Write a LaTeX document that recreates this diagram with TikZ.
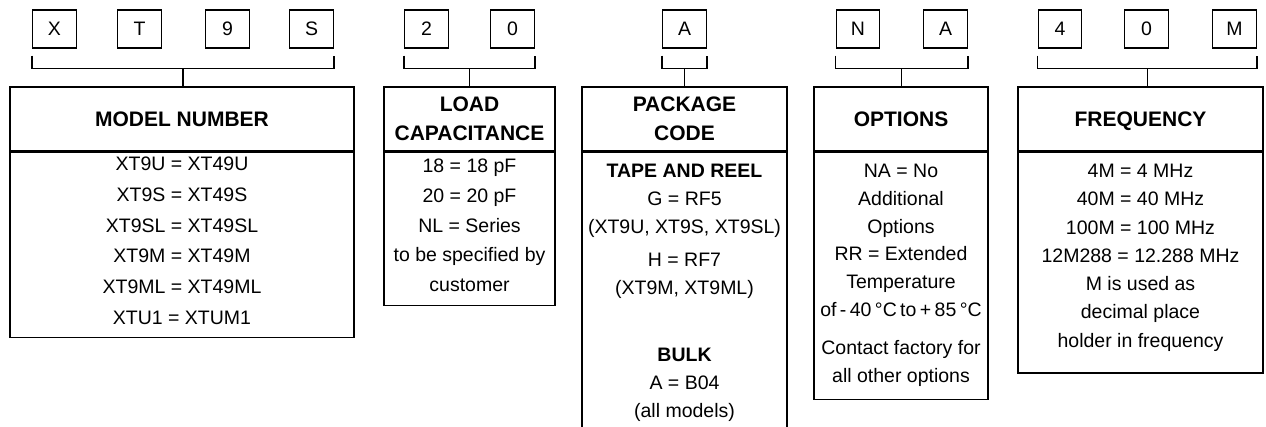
\documentclass[tikz,border=0pt]{standalone}
\usepackage{fontspec}
\setmainfont{Liberation Sans}
\usetikzlibrary{positioning,calc}

\begin{document}
\begin{tikzpicture}[x=1pt,y=-1pt,
    digit/.style={draw, line width=1.3pt, minimum width=43.5pt, minimum height=38pt, inner sep=0pt, font=\fontsize{19.5}{23}\selectfont},
    brace/.style={line width=1.3pt},
    headbox/.style={draw, line width=1.6pt, minimum height=64pt, inner sep=0pt, text depth=0pt, align=center, anchor=north, font=\fontsize{21}{29}\selectfont\bfseries},
    bodybox/.style={draw, line width=1.6pt, inner sep=0pt, align=center, anchor=north, font=\fontsize{19.5}{#1}\selectfont},
  ]
  \useasboundingbox (0,0) rectangle (1266,426);

  % part number characters
  \node[digit] (mX) at (54.5,29) {X};
  \node[digit] (mT) at (139.5,29) {T};
  \node[digit] (m9) at (227.5,29) {9};
  \node[digit] (mS) at (311.5,29) {S};
  \node[digit] (c2) at (426.5,29) {2};
  \node[digit] (c0) at (512.5,29) {0};
  \node[digit] (pA) at (684.5,29) {A};
  \node[digit] (oN) at (858,29) {N};
  \node[digit] (oA) at (945.5,29) {A};
  \node[digit] (f4) at (1060,29) {4};
  \node[digit] (f0) at (1146.5,29) {0};
  \node[digit] (fM) at (1234.5,29) {M};

  % headers
  \node[headbox, minimum width=344pt] (mhead) at (182,86) {MODEL NUMBER};
  \node[headbox, minimum width=171pt] (chead) at (469.5,86) {LOAD\\CAPACITANCE};
  \node[headbox, minimum width=205pt] (phead) at (684.5,86) {PACKAGE\\CODE};
  \node[headbox, minimum width=174pt] (ohead) at (901,86) {OPTIONS};
  \node[headbox, minimum width=245pt] (fhead) at (1140.5,86) {FREQUENCY};

  % bodies
  \node[bodybox=30.8, minimum width=344pt, text height=172pt, text depth=13pt] (mbody) at (mhead.south)
    {XT9U = XT49U\\XT9S = XT49S\\XT9SL = XT49SL\\XT9M = XT49M\\XT9ML = XT49ML\\XTU1 = XTUM1};
  \node[bodybox=29.8, minimum width=171pt, text height=139.2pt, text depth=13.8pt] (cbody) at (chead.south)
    {18 = 18 pF\\20 = 20 pF\\NL = Series\\to be specified by\\customer};
  \node[bodybox=28, minimum width=205pt, text height=265pt, text depth=25pt] (pbody) at (phead.south)
    {\textbf{TAPE AND REEL}\\G = RF5\\(XT9U, XT9S, XT9SL)\\[5pt]H = RF7\\(XT9M, XT9ML)\\[39pt]
     \textbf{BULK}\\A = B04\\(all models)};
  \node[bodybox=27.8, minimum width=174pt, text height=229.6pt, text depth=17.4pt] (obody) at (ohead.south)
    {NA = No\\Additional\\Options\\RR = Extended\\Temperature\\{\spaceskip=3.4pt of - 40 °C to + 85 °C}\\[10pt]
     Contact factory for\\all other options};
  \node[bodybox=28.3, minimum width=245pt, text height=194.8pt, text depth=26pt] (fbody) at (fhead.south)
    {4M = 4 MHz\\40M = 40 MHz\\100M = 100 MHz\\12M288 = 12.288 MHz\\M is used as\\decimal place\\holder in frequency};

  % brackets
  \draw[brace] ([yshift=-7pt]mX.south west) -- ++(0,13) -| ([yshift=-7pt]mS.south east);
  \draw[brace] ([yshift=-7pt]c2.south west) -- ++(0,13) -| ([yshift=-7pt]c0.south east);
  \draw[brace] ([yshift=-7pt]pA.south west) -- ++(0,13) -| ([yshift=-7pt]pA.south east);
  \draw[brace] ([yshift=-7pt]oN.south west) -- ++(0,13) -| ([yshift=-7pt]oA.south east);
  \draw[brace] ([yshift=-7pt]f4.south west) -- ++(0,13) -| ([yshift=-7pt]fM.south east);

  \coordinate (mB) at ($(mX.south west)!0.5!(mS.south east)+(0,20)$);
  \coordinate (cB) at ($(c2.south west)!0.5!(c0.south east)+(0,20)$);
  \coordinate (pB) at ($(pA.south)+(0,20)$);
  \coordinate (oB) at ($(oN.south west)!0.5!(oA.south east)+(0,20)$);
  \coordinate (fB) at ($(f4.south west)!0.5!(fM.south east)+(0,20)$);
  \draw[brace] (mB) -- (mB |- mhead.north);
  \draw[brace] (cB) -- (cB |- chead.north);
  \draw[brace] (pB) -- (pB |- phead.north);
  \draw[brace] (oB) -- (oB |- ohead.north);
  \draw[brace] (fB) -- (fB |- fhead.north);
\end{tikzpicture}
\end{document}
